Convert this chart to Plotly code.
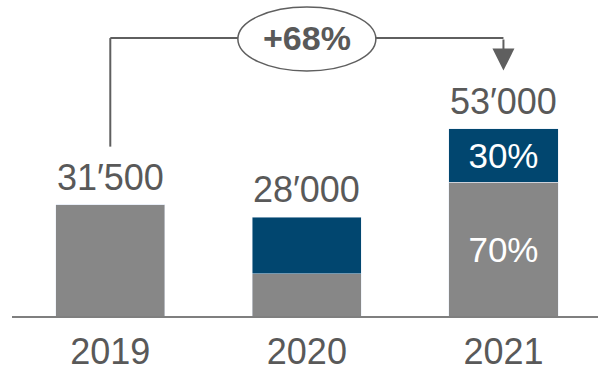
import plotly.graph_objects as go

years = ["2019", "2020", "2021"]
base_vals = [31500, 11900, 37800]      # grey segment
new_vals = [0, 16100, 15200]           # blue segment
totals = [31500, 28000, 53000]
total_labels = ["31′500", "28′000", "53′000"]
base_text = ["", "", "70%"]
new_text = ["", "", "30%"]
growth_label = "+68%"

GREY = "#878787"
BLUE = "#01466F"
TXT = "#595959"
LINE = "#5f5f5f"
FONT = "Liberation Sans, Arial, sans-serif"

fig = go.Figure()
fig.add_trace(go.Bar(x=years, y=base_vals, marker_color=GREY, width=0.555,
                     text=base_text, textposition="inside", insidetextanchor="middle",
                     textangle=0, textfont=dict(size=35, color="white", family=FONT),
                     hoverinfo="skip"))
fig.add_trace(go.Bar(x=years, y=new_vals, marker_color=BLUE, width=0.555,
                     text=new_text, textposition="inside", insidetextanchor="middle",
                     textangle=0, textfont=dict(size=35, color="white", family=FONT),
                     hoverinfo="skip"))

for i, (tot, lab) in enumerate(zip(totals, total_labels)):
    fig.add_annotation(x=i, y=tot, text=lab, showarrow=False, yanchor="bottom",
                       xref="x", yref="y", yshift=5,
                       font=dict(size=36, color=TXT, family=FONT))

# bracket
ymax = 89370
bracket_y = 78600
gap = 16400
i0, i2 = 0, 2
fig.add_shape(type="line", x0=i0, x1=i0, y0=totals[0] + gap, y1=bracket_y,
              line=dict(color=LINE, width=2), xref="x", yref="y")
fig.add_shape(type="line", x0=i0, x1=i2, y0=bracket_y, y1=bracket_y,
              line=dict(color=LINE, width=2), xref="x", yref="y")
fig.add_shape(type="circle", x0=1 - 0.351, x1=1 + 0.351, y0=69290, y1=87390,
              line=dict(color=LINE, width=1.5), fillcolor="white", xref="x", yref="y")
fig.add_annotation(x=1, y=bracket_y, text="<b>" + growth_label + "</b>", showarrow=False,
                   xref="x", yref="y", font=dict(size=34, color=TXT, family=FONT))
fig.add_annotation(x=i2, y=totals[2] + gap, ax=i2, ay=bracket_y, axref="x", ayref="y",
                   xref="x", yref="y", text="", showarrow=True, arrowhead=2,
                   arrowsize=2.2, arrowwidth=2, arrowcolor=LINE, standoff=0)

fig.update_layout(
    barmode="stack", width=598, height=368, showlegend=False,
    margin=dict(l=12, r=0, t=0, b=52),
    plot_bgcolor="white", paper_bgcolor="white",
    font=dict(family=FONT, color=TXT),
    uniformtext=dict(minsize=35, mode="show"),
    xaxis=dict(type="category", range=[-0.5, 2.481], showline=True, linecolor="#7f7f7f",
               linewidth=2, automargin=False,
               showgrid=False, zeroline=False, ticks="", tickfont=dict(size=36, color=TXT, family=FONT),
               ticklabelstandoff=3),
    yaxis=dict(range=[0, ymax], visible=False, automargin=False),
)
fig.write_html("out.html")
